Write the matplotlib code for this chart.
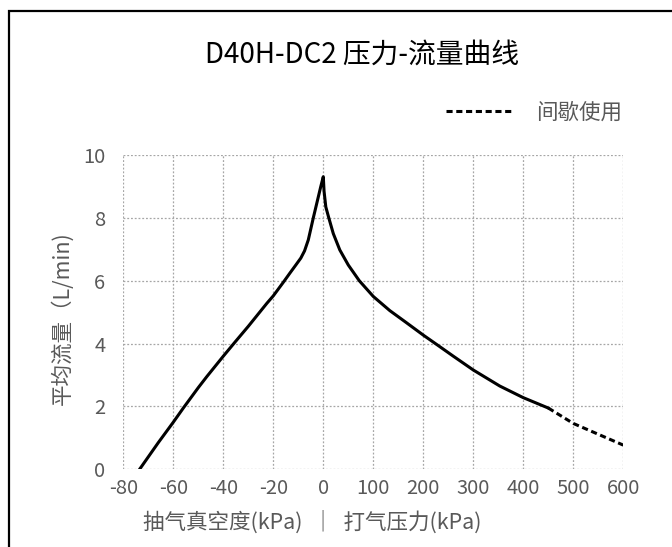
import numpy as np
import matplotlib
matplotlib.use("Agg")
import matplotlib.pyplot as plt
from matplotlib.lines import Line2D
from matplotlib.patches import Rectangle

plt.rcParams['font.family'] = ['Noto Sans CJK SC', 'DejaVu Sans']

# ----- dati (kPa, L/min) -----
# lato aspirazione (vuoto, valori negativi) + lato compressione
x_cont = [-73.5, -66, -60, -56, -50, -46.6, -40, -35.3, -30, -22.6, -20, -16,
          -13.3, -11, -9, -7.5, -6, -4, -2.2, -1, 0,
          1.5, 5, 11, 20, 33, 50, 72, 100, 133, 165, 200, 227,
          260, 300, 353, 400, 450]
y_cont = [0.0, 0.85, 1.5, 1.95, 2.6, 2.95, 3.6, 4.05, 4.55, 5.28, 5.52, 5.95,
          6.25, 6.5, 6.72, 6.95, 7.3, 8.0, 8.6, 9.0, 9.31,
          8.85, 8.35, 8.0, 7.5, 6.98, 6.5, 6.0, 5.5, 5.05, 4.68, 4.27, 3.97,
          3.6, 3.16, 2.65, 2.28, 1.95]
# uso intermittente
x_int = [450, 500, 600]
y_int = [1.95, 1.46, 0.77]

xticks = [-80, -60, -40, -20, 0, 100, 200, 300, 400, 500, 600]
yticks = [0, 2, 4, 6, 8, 10]

grigio = "#595959"


def forward(x):
    x = np.asarray(x, dtype=float)
    return np.where(x < 0, x / 20.0, x / 100.0)


def inverse(p):
    p = np.asarray(p, dtype=float)
    return np.where(p < 0, p * 20.0, p * 100.0)


def main():
    fig = plt.figure(figsize=(6.72, 5.47), dpi=100)
    ax = fig.add_axes([0.1835, 0.142, 0.744, 0.5746])
    ax.set_xscale('function', functions=(forward, inverse))

    ax.plot(x_cont, y_cont, color="black", lw=2.2, solid_joinstyle="round")
    ax.plot(x_int, y_int, color="black", lw=2.2, dashes=(2.0, 1.2))

    ax.set_xlim(-80, 600)
    ax.set_ylim(0, 10)
    ax.set_xticks(xticks)
    ax.set_xticklabels([str(t) for t in xticks])
    ax.set_yticks(yticks)
    ax.minorticks_off()
    ax.tick_params(length=0, labelsize=14.5, labelcolor=grigio, pad=6)
    ax.tick_params(axis='y', pad=13)
    for s in ax.spines.values():
        s.set_visible(False)
    ax.grid(True, color="#a6a6a6", lw=0.9, linestyle=(0, (1.5, 1.5)))
    ax.set_axisbelow(True)

    fig.text(62 / 672, 1 - 318 / 547, "平均流量（L/min)", rotation=90,
             ha="center", va="center", fontsize=15.5, color=grigio)
    fig.text(312 / 672, 1 - 522 / 547, "抽气真空度(kPa)  ｜  打气压力(kPa)",
             ha="center", va="center", fontsize=15.5, color=grigio)
    fig.text(362 / 672, 1 - 55 / 547, "D40H-DC2 压力-流量曲线",
             ha="center", va="center", fontsize=20, color="black")

    handle = Line2D([], [], color="black", lw=2.2, dashes=(2.0, 1.2))
    ax.legend(handles=[handle], labels=["间歇使用"], loc="center right",
              bbox_to_anchor=(622 / 672, 1 - 113 / 547), bbox_transform=fig.transFigure,
              frameon=False, handlelength=3.2, handletextpad=1.0,
              borderaxespad=0, borderpad=0,
              labelcolor=grigio, prop={'size': 15.5})

    fig.patches.append(Rectangle((9 / 672, -0.1), 1.1, 1 - 11 / 547 + 0.1,
                                 transform=fig.transFigure, fill=False,
                                 edgecolor="black", lw=1.6))

    plt.savefig("out.png", dpi=100)


if __name__ == '__main__':
    main()
